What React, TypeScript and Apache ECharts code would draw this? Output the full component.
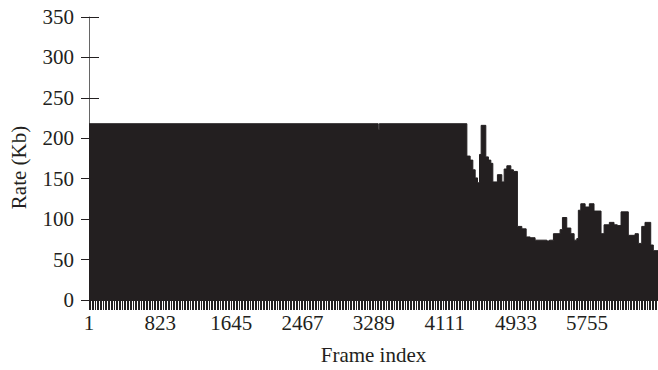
import React, { useEffect, useRef } from "react";
import * as echarts from "echarts";

// Step segments: [start frame index (0-based), rate in Kb]
const segmentStarts: number[] = [
  0, 3341, 3353, 4365, 4403, 4434, 4461, 4488, 4511, 4530, 4584, 4614, 4642, 4665,
  4718, 4769, 4796, 4827, 4873, 4903, 4949, 5000, 5050, 5096, 5153, 5289, 5319,
  5365, 5442, 5469, 5519, 5566, 5604, 5635, 5653, 5681, 5731, 5780, 5834, 5915,
  5950, 6011, 6065, 6103, 6146, 6230, 6308, 6346, 6385, 6423, 6489, 6519,
];
const segmentRates: number[] = [
  218, 211, 218, 178, 173, 161, 151, 145, 180, 216, 177, 173, 169, 146,
  155, 146, 162, 166, 161, 159, 91, 88, 78, 77, 74, 73, 74,
  82, 87, 102, 89, 82, 74, 76, 111, 119, 115, 119, 110, 82,
  93, 96, 93, 92, 109, 80, 82, 70, 91, 96, 68, 61,
];
const lastFrameIndex = 6573;
const xTickStep = 822; // labels 1, 823, 1645, ...
const yTicks: number[] = [0, 50, 100, 150, 200, 250, 300, 350];

const INK = "#231f20";
const FONT = "'Liberation Serif', 'Times New Roman', serif";
const FS = 21;

export default function App() {
  const ref = useRef<HTMLDivElement>(null);
  useEffect(() => {
    if (!ref.current) return;
    const chart = echarts.init(ref.current, undefined, { renderer: "svg" });
    const data: [number, number][] = segmentStarts.map((s, i) => [s, segmentRates[i]]);
    data.push([lastFrameIndex, segmentRates[segmentRates.length - 1]]);
    const yMax = yTicks[yTicks.length - 1];
    const yInterval = yTicks[1] - yTicks[0];
    chart.setOption({
      animation: false,
      grid: { left: 88, right: 0, top: 17, bottom: 70 },
      xAxis: {
        type: "value",
        min: 0,
        max: lastFrameIndex,
        interval: xTickStep,
        name: "Frame index",
        nameLocation: "middle",
        nameGap: 44,
        nameTextStyle: { fontFamily: FONT, fontSize: FS, color: INK },
        axisLine: { show: true, lineStyle: { color: INK, width: 1 } },
        axisTick: { show: true, length: 10, lineStyle: { color: INK } },
        minorTick: { show: true, splitNumber: 45, length: 10, lineStyle: { color: "#222", width: 1 } },
        axisLabel: {
          fontFamily: FONT,
          fontSize: FS,
          color: INK,
          margin: 12,
          showMaxLabel: false,
          formatter: (v: number) => String(v + 1),
        },
        splitLine: { show: false },
      },
      yAxis: [
        {
          type: "value",
          min: 0,
          max: yMax,
          interval: yInterval,
          name: "Rate (Kb)",
          nameLocation: "middle",
          nameGap: 60,
          nameTextStyle: { fontFamily: FONT, fontSize: FS, color: INK, padding: [0, 18, 0, 0] },
          axisLine: { show: true, lineStyle: { color: "#666", width: 1 } },
          axisTick: { show: true, length: 8, lineStyle: { color: INK } },
          axisLabel: { fontFamily: FONT, fontSize: FS, color: INK, margin: 15 },
          splitLine: { show: false },
        },
        {
          type: "value",
          min: 0,
          max: yMax,
          interval: yInterval,
          position: "left",
          axisLine: { show: false },
          axisTick: { show: true, inside: true, length: 10, lineStyle: { color: INK } },
          axisLabel: { show: false },
          splitLine: { show: false },
        },
      ],
      series: [
        {
          type: "line",
          step: "end",
          data,
          symbol: "none",
          lineStyle: { color: INK, width: 1 },
          areaStyle: { color: INK, opacity: 1 },
          z: 1,
        },
      ],
    });
    return () => chart.dispose();
  }, []);
  return (
    <div
      ref={ref}
      style={{ position: "fixed", left: 0, top: 0, width: 658, height: 370, background: "#fff" }}
    />
  );
}
